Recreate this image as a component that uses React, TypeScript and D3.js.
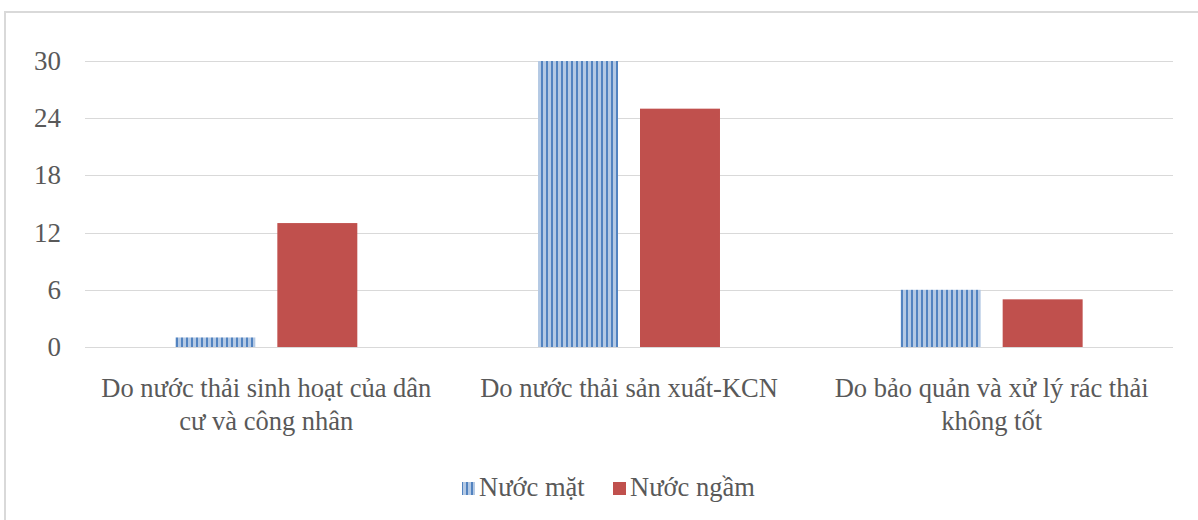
import React, { useEffect, useRef } from "react";
import * as d3 from "d3";

const categories = [
  "Do nước thải sinh hoạt của dân cư và công nhân",
  "Do nước thải sản xuất-KCN",
  "Do bảo quản và xử lý rác thải không tốt",
];
const seriesNames = ["Nước mặt", "Nước ngầm"];
const nuocMat = [1, 30, 6];
const nuocNgam = [13, 25, 5];
const yTicks = [0, 6, 12, 18, 24, 30];

const W = 1198;
const H = 520;
const FONT = "Liberation Serif";
const FS = 26.5;
const TEXT = "#595959";

export default function App() {
  const ref = useRef<SVGSVGElement | null>(null);

  useEffect(() => {
    document.body.style.margin = "0";
    const svg = d3.select(ref.current);
    svg.selectAll("*").remove();

    const margin = { top: 61, right: 25, bottom: 173, left: 85 };
    const x0 = d3.scaleBand<string>().domain(categories).range([margin.left, W - margin.right]);
    const x1 = d3
      .scaleBand<string>()
      .domain(seriesNames)
      .range([0, x0.bandwidth()])
      .paddingInner(0.2157)
      .paddingOuter(0.886);
    const y = d3.scaleLinear().domain([0, 30]).range([H - margin.bottom, margin.top]);

    // pattern for Nước mặt
    const defs = svg.append("defs");
    const pat = defs
      .append("pattern")
      .attr("id", "vstripe")
      .attr("patternUnits", "userSpaceOnUse")
      .attr("width", 5)
      .attr("height", 10);
    pat.append("rect").attr("width", 5).attr("height", 10).attr("fill", "#b4c9e4");
    pat.append("rect").attr("x", 1).attr("width", 2).attr("height", 10).attr("fill", "#5283c0");

    svg.append("rect").attr("width", W).attr("height", H).attr("fill", "#fff");
    // chart area border
    svg
      .append("rect")
      .attr("x", 5)
      .attr("y", 12)
      .attr("width", W + 20)
      .attr("height", H + 20)
      .attr("fill", "none")
      .attr("stroke", "#d9d9d9")
      .attr("stroke-width", 2);

    // gridlines + y labels
    const grid = svg.append("g");
    grid
      .selectAll("line")
      .data(yTicks)
      .enter()
      .append("line")
      .attr("x1", margin.left)
      .attr("x2", W - margin.right)
      .attr("y1", (d) => Math.round(y(d)) + 0.5)
      .attr("y2", (d) => Math.round(y(d)) + 0.5)
      .attr("stroke", "#d9d9d9")
      .attr("stroke-width", 1);
    grid
      .selectAll("text")
      .data(yTicks)
      .enter()
      .append("text")
      .attr("x", 61)
      .attr("y", (d) => y(d))
      .attr("dy", "0.33em")
      .attr("text-anchor", "end")
      .attr("font-family", FONT)
      .attr("font-size", 27)
      .attr("fill", TEXT)
      .text((d) => d);

    // bars
    const data = [nuocMat, nuocNgam];
    const fills = ["url(#vstripe)", "#c0504d"];
    seriesNames.forEach((s, si) => {
      svg
        .append("g")
        .selectAll("rect")
        .data(categories)
        .enter()
        .append("rect")
        .attr("x", (c) => (x0(c) as number) + (x1(s) as number))
        .attr("y", (c, i) => y(data[si][i]))
        .attr("width", x1.bandwidth())
        .attr("height", (c, i) => y(0) - y(data[si][i]))
        .attr("fill", fills[si]);
    });

    // category labels, wrapped
    const maxW = 345;
    const base = 397;
    categories.forEach((c) => {
      const cx = (x0(c) as number) + x0.bandwidth() / 2;
      const t = svg
        .append("text")
        .attr("x", cx)
        .attr("y", base)
        .attr("text-anchor", "middle")
        .attr("font-family", FONT)
        .attr("font-size", FS)
        .attr("fill", TEXT);
      const words = c.split(" ");
      let line: string[] = [];
      let lineNo = 0;
      let tspan = t.append("tspan").attr("x", cx).attr("y", base);
      words.forEach((w) => {
        line.push(w);
        tspan.text(line.join(" "));
        if ((tspan.node() as SVGTSpanElement).getComputedTextLength() > maxW && line.length > 1) {
          line.pop();
          tspan.text(line.join(" "));
          line = [w];
          lineNo++;
          tspan = t.append("tspan").attr("x", cx).attr("y", base + lineNo * 33).text(w);
        }
      });
    });

    // legend
    const legend = svg.append("g");
    const lx = [462, 613];
    seriesNames.forEach((s, i) => {
      legend
        .append("rect")
        .attr("x", lx[i])
        .attr("y", 482)
        .attr("width", 13)
        .attr("height", 13)
        .attr("fill", i === 0 ? "url(#vstripe)" : "#c0504d");
      legend
        .append("text")
        .attr("x", lx[i] + 17)
        .attr("y", 496)
        .attr("font-family", FONT)
        .attr("font-size", FS)
        .attr("fill", TEXT)
        .text(s);
    });
  }, []);

  return <svg ref={ref} width={W} height={H} style={{ display: "block" }} />;
}
